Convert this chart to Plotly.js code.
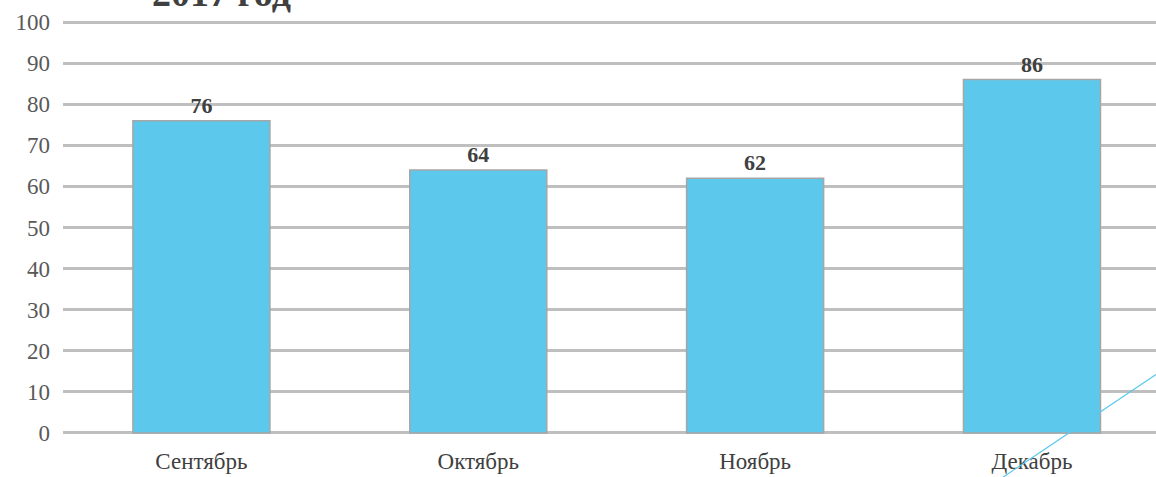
<!DOCTYPE html>
<html>
<head>
<meta charset="utf-8">
<script src="https://cdn.plot.ly/plotly-3.0.1.min.js"></script>
<style>html,body{margin:0;padding:0;background:#fff;}#chart{width:1156px;height:477px;}</style>
</head>
<body>
<div id="chart"></div>
<script>
const categories = ["Сентябрь", "Октябрь", "Ноябрь", "Декабрь"];
const values = [76, 64, 62, 86];
const yTicks = [0, 10, 20, 30, 40, 50, 60, 70, 80, 90, 100];
const titleText = "2017 год";

const serif = "Liberation Serif, Times New Roman, serif";

const trace = {
  type: "bar",
  x: categories.map((c, i) => i),
  y: values,
  text: values.map(v => "<b>" + v + "</b>"),
  textposition: "outside",
  cliponaxis: false,
  textfont: {family: serif, size: 22, color: "#404040"},
  marker: {color: "#5BC8EC", line: {color: "#A6A6A6", width: 1.5}},
  hoverinfo: "skip"
};

const layout = {
  width: 1156, height: 477,
  margin: {l: 63, r: 0, t: 20, b: 42},
  paper_bgcolor: "#ffffff", plot_bgcolor: "#ffffff",
  showlegend: false,
  bargap: 0.505,
  xaxis: {
    range: [-0.5, 3.448],
    tickmode: "array",
    tickvals: categories.map((c, i) => i),
    ticktext: categories,
    showgrid: false, zeroline: false, showline: false,
    ticks: "",
    ticklabelstandoff: 10,
    tickfont: {family: serif, size: 23, color: "#404040"},
    fixedrange: true
  },
  yaxis: {
    range: [-0.5, 100.5],
    tickmode: "array",
    tickvals: yTicks,
    ticktext: yTicks.map(String),
    showgrid: true, gridcolor: "#BFBFBF", gridwidth: 3,
    zeroline: false,
    showline: false, ticks: "",
    ticklabelstandoff: 12,
    tickfont: {family: serif, size: 23, color: "#595959"},
    fixedrange: true
  },
  annotations: [{
    text: "<b>" + titleText + "</b>",
    xref: "paper", yref: "paper",
    x: (221 - 63) / 1093, y: 1,
    xanchor: "center", yanchor: "bottom",
    yshift: 4,
    showarrow: false,
    font: {family: serif, size: 38, color: "#404040"}
  }],
  shapes: [{
    type: "line", xref: "paper", yref: "paper",
    x0: 1.0, y0: 0.146, x1: 0.857, y1: -0.107,
    line: {color: "#5BC8EC", width: 1.2},
    layer: "above"
  }]
};

Plotly.newPlot("chart", [trace], layout, {displayModeBar: false, staticPlot: true});
</script>
</body>
</html>
